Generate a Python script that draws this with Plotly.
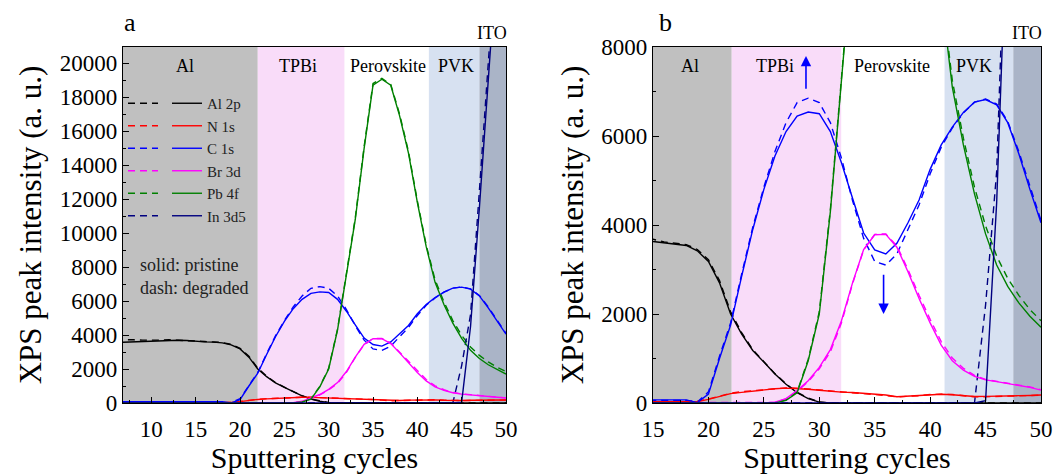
import plotly.graph_objects as go

# ---------------- data ----------------
cycles = [6, 7, 8, 9, 10, 11, 12, 13, 14, 15, 16, 17, 18, 19, 20, 21, 22, 23, 24, 25,
          26, 27, 28, 29, 30, 31, 32, 33, 34, 35, 36, 37, 38, 39, 40, 41, 42, 43, 44, 45,
          46, 47, 48, 49, 50]

al2p_pristine = [3560, 3580, 3620, 3640, 3660, 3680, 3700, 3690, 3680, 3630, 3600, 3580, 3540, 3420, 3180,
                 2700, 2000, 1550, 1180, 920, 650, 420, 230, 100, 20, 0, 0, 0, 0, 0,
                 0, 0, 0, 0, 0, 0, 0, 0, 0, 0, 0, 0, 0, 0, 0]
al2p_degraded = [3720, 3730, 3720, 3700, 3690, 3700, 3720, 3700, 3690, 3680, 3620, 3590, 3560, 3450, 3220,
                 2750, 2050, 1580, 1200, 930, 660, 430, 240, 110, 25, 0, 0, 0, 0, 0,
                 0, 0, 0, 0, 0, 0, 0, 0, 0, 0, 0, 0, 0, 0, 0]

n1s_pristine = [20, 20, 20, 20, 20, 20, 20, 20, 20, 20, 20, 20, 20, 30, 80,
                150, 210, 240, 270, 290, 320, 335, 330, 310, 285, 260, 245, 235, 220, 210,
                180, 140, 150, 170, 185, 195, 185, 160, 145, 150, 160, 160, 165, 170, 180]
n1s_degraded = [25, 25, 25, 25, 25, 25, 25, 25, 25, 25, 25, 25, 25, 40, 90,
                160, 220, 255, 280, 300, 330, 340, 335, 320, 295, 270, 250, 240, 225, 205,
                170, 135, 145, 165, 190, 200, 190, 165, 140, 140, 150, 155, 160, 165, 175]

c1s_pristine = [70, 70, 70, 70, 70, 70, 70, 70, 70, 70, 70, 70, 70, 10, 200,
                1000, 1750, 2850, 3900, 4800, 5550, 6100, 6450, 6540, 6500, 6100, 5400, 4600, 3820, 3440,
                3350, 3590, 4050, 4560, 5250, 5800, 6200, 6530, 6760, 6820, 6700, 6300, 5600, 4800, 4050]
c1s_degraded = [60, 60, 60, 60, 60, 60, 60, 60, 60, 60, 60, 60, 60, 20, 250,
                1050, 1800, 2900, 3950, 4850, 5650, 6300, 6750, 6850, 6750, 6300, 5500, 4550, 3700, 3180,
                3100, 3350, 3900, 4450, 5150, 5750, 6180, 6520, 6760, 6830, 6720, 6330, 5650, 4850, 4100]

br3d_pristine = [0, 0, 0, 0, 0, 0, 0, 0, 0, 0, 0, 0, 0, 0, 0,
                 0, 0, 0, 0, 0, 20, 100, 280, 500, 800, 1200, 1850, 2700, 3450, 3780,
                 3790, 3500, 2950, 2350, 1800, 1300, 950, 740, 600, 520, 480, 440, 400, 350, 290]
br3d_degraded = [0, 0, 0, 0, 0, 0, 0, 0, 0, 0, 0, 0, 0, 0, 0,
                 0, 0, 0, 0, 0, 15, 90, 260, 480, 770, 1150, 1800, 2680, 3440, 3790,
                 3800, 3530, 3000, 2420, 1880, 1380, 1010, 780, 620, 530, 490, 450, 410, 360, 300]

pb4f_pristine = [0, 0, 0, 0, 0, 0, 0, 0, 0, 0, 0, 0, 0, 0, 0,
                 0, 0, 0, 0, 0, 0, 60, 230, 950, 2000, 4300, 7500, 10800, 15000, 18700,
                 19050, 18700, 16900, 14700, 11800, 9200, 7100, 5800, 4700, 3800, 3100, 2620, 2250, 1950, 1700]
pb4f_degraded = [0, 0, 0, 0, 0, 0, 0, 0, 0, 0, 0, 0, 0, 0, 0,
                 0, 0, 0, 0, 0, 0, 70, 250, 980, 2050, 4350, 7600, 10900, 15100, 18800,
                 19100, 18750, 17000, 14800, 11900, 9300, 7250, 5950, 4850, 3980, 3300, 2800, 2420, 2100, 1850]

in3d5_pristine = [0, 0, 0, 0, 0, 0, 0, 0, 0, 0, 0, 0, 0, 0, 0,
                  0, 0, 0, 0, 0, 0, 0, 0, 0, 0, 0, 0, 0, 0, 0,
                  0, 0, 0, 0, 0, 0, 0, 0, 0, 50, 4500, 11500, 19500, 27000, 34000]
in3d5_degraded = [0, 0, 0, 0, 0, 0, 0, 0, 0, 0, 0, 0, 0, 0, 0,
                  0, 0, 0, 0, 0, 0, 0, 0, 0, 0, 0, 0, 0, 0, 0,
                  0, 0, 0, 0, 0, 0, 0, 0, 0, 2200, 5200, 12500, 20500, 28000, 35000]

element_names = ["Al 2p", "N 1s", "C 1s", "Br 3d", "Pb 4f", "In 3d5"]
element_colors = ["#000000", "#ff0000", "#0000ff", "#ff00ff", "#008000", "#000080"]

layer_names = ["Al", "TPBi", "Perovskite", "PVK", "ITO"]
layer_colors = ["#c0c0c0", "#f9dcf9", "#ffffff", "#d7e1f1", "#aab4c7"]
layer_edges_a = [6.8, 22.0, 31.8, 41.3, 47.0, 50]
layer_edges_b = [15, 22.1, 32.0, 41.3, 47.5, 50]
layer_label_x_a = [13.8, 26.5, 36.7, 44.4, 48.4]
layer_label_x_b = [18.3, 26.0, 36.6, 44.0, 48.7]

xrange_a = [6.8, 50]
xrange_b = [15, 50]
yrange_a = [0, 20950]
yrange_b = [0, 8000]

arrow_up = dict(x=28.8, y_tail=7030, y_head=7800)
arrow_down = dict(x=35.8, y_tail=2914, y_head=2000)

# ---------------- figure ----------------
FONT = "Liberation Serif"
pristine = [al2p_pristine, n1s_pristine, c1s_pristine, br3d_pristine, pb4f_pristine, in3d5_pristine]
degraded = [al2p_degraded, n1s_degraded, c1s_degraded, br3d_degraded, pb4f_degraded, in3d5_degraded]

fig = go.Figure()
for panel, (xa, ya) in enumerate([("x", "y"), ("x2", "y2")]):
    for name, col, ys, yd in zip(element_names, element_colors, pristine, degraded):
        fig.add_trace(go.Scatter(x=cycles, y=yd, mode="lines", xaxis=xa, yaxis=ya,
                                 line=dict(color=col, width=1.4, dash="7px,5px"),
                                 name=" ", legend="legend", showlegend=(panel == 0)))
    for name, col, ys, yd in zip(element_names, element_colors, pristine, degraded):
        fig.add_trace(go.Scatter(x=cycles, y=ys, mode="lines", xaxis=xa, yaxis=ya,
                                 line=dict(color=col, width=1.4),
                                 name=name, legend="legend2", showlegend=(panel == 0)))

# layer shading
for xref, yref, edges in [("x", "y domain", layer_edges_a), ("x2", "y2 domain", layer_edges_b)]:
    for i, colr in enumerate(layer_colors):
        fig.add_shape(type="rect", xref=xref, yref=yref, x0=edges[i], x1=edges[i + 1], y0=0, y1=1,
                      fillcolor=colr, line=dict(width=0), layer="below")

# layer labels
for xref, yref, xs in [("x", "y domain", layer_label_x_a), ("x2", "y2 domain", layer_label_x_b)]:
    for nm, xv in zip(layer_names, xs):
        yv = 1.04 if nm == "ITO" else 0.948
        fig.add_annotation(x=xv, y=yv, xref=xref, yref=yref, text=nm, showarrow=False,
                           xanchor="center", yanchor="middle",
                           font=dict(family=FONT, size=18, color="black"))

# notes
fig.add_annotation(x=138 / 1053, y=1 - 276 / 474, xref="paper", yref="paper", xanchor="left", yanchor="middle",
                   text="solid: pristine<br>dash: degraded", align="left", showarrow=False,
                   font=dict(family=FONT, size=18, color="#222222"))
fig.add_annotation(x=130 / 1053, y=1 - 23 / 474, xref="paper", yref="paper", text="a", showarrow=False,
                   xanchor="center", yanchor="middle", font=dict(family=FONT, size=26, color="black"))
fig.add_annotation(x=665 / 1053, y=1 - 23 / 474, xref="paper", yref="paper", text="b", showarrow=False,
                   xanchor="center", yanchor="middle", font=dict(family=FONT, size=26, color="black"))

# arrows
for arr in (arrow_up, arrow_down):
    fig.add_annotation(x=arr["x"], y=arr["y_head"], ax=arr["x"], ay=arr["y_tail"],
                       xref="x2", yref="y2", axref="x2", ayref="y2", text="", showarrow=True,
                       arrowhead=2, arrowsize=1.3, arrowwidth=1.6, arrowcolor="#0000ff")

axis_common = dict(showline=True, mirror=True, linecolor="black", linewidth=1.2, showgrid=False,
                   zeroline=False, ticks="inside", ticklen=6, tickcolor="black", automargin=False,
                   tickformat="d", tickfont=dict(family=FONT, size=23, color="black"))

ydom = [1 - 403 / 474, 1 - 47 / 474]
legend_font = dict(family=FONT, size=15, color="#222222")
xtitle_font = dict(family=FONT, size=30, color="black")
ytitle_font = dict(family=FONT, size=31, color="black")
fig.update_layout(
    width=1053, height=474, margin=dict(l=0, r=0, t=0, b=0),
    paper_bgcolor="white", plot_bgcolor="white",
    xaxis=dict(domain=[123 / 1053, 506 / 1053], range=xrange_a, dtick=5, tick0=0, ticklabelstandoff=5,
               minor=dict(ticks="inside", ticklen=3, dtick=2.5, tickcolor="black"),
               title=dict(text="Sputtering cycles", font=xtitle_font, standoff=8),
               **axis_common),
    yaxis=dict(domain=ydom, range=yrange_a, dtick=2000, anchor="x",
               minor=dict(ticks="inside", ticklen=3, dtick=1000, tickcolor="black"),
               title=dict(text="XPS peak intensity (a. u.)", font=ytitle_font, standoff=8),
               **axis_common),
    xaxis2=dict(domain=[653 / 1053, 1041 / 1053], range=xrange_b, dtick=5, tick0=0, anchor="y2", ticklabelstandoff=5,
                minor=dict(ticks="inside", ticklen=3, dtick=2.5, tickcolor="black"),
                title=dict(text="Sputtering cycles", font=xtitle_font, standoff=8),
                **axis_common),
    yaxis2=dict(domain=ydom, range=yrange_b, dtick=2000, anchor="x2",
                minor=dict(ticks="inside", ticklen=3, dtick=1000, tickcolor="black"),
                title=dict(text="XPS peak intensity (a. u.)", font=ytitle_font, standoff=8),
                **axis_common),
    legend=dict(x=123 / 1053, y=1 - 87 / 474, xanchor="left", yanchor="top", bgcolor="rgba(0,0,0,0)",
                font=legend_font, itemwidth=30, tracegroupgap=0),
    legend2=dict(x=167 / 1053, y=1 - 87 / 474, xanchor="left", yanchor="top", bgcolor="rgba(0,0,0,0)",
                 font=legend_font, itemwidth=30, tracegroupgap=0),
    showlegend=True,
)

fig.write_html("out.html")
